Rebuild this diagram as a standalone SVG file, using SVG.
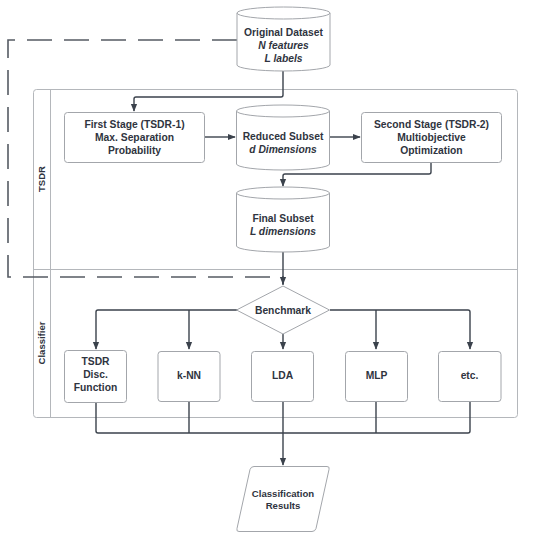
<svg xmlns="http://www.w3.org/2000/svg" width="550" height="538" viewBox="0 0 550 538">
<defs>
<style>
.box{fill:#fff;stroke:#a3a6ab;stroke-width:1}
.lane{fill:none;stroke:#b4b7bb;stroke-width:1}
.t{font-family:"Liberation Sans",Arial,sans-serif;font-weight:bold;font-size:10.3px;fill:#2f3440;text-anchor:middle}
.i{font-style:italic}
.c{fill:none;stroke:#3b424c;stroke-width:1.4}
.d{fill:none;stroke:#555b63;stroke-width:1.6;stroke-dasharray:25 12}
</style>
<marker id="ah" viewBox="0 0 10 10" refX="9" refY="5" markerWidth="8" markerHeight="8" markerUnits="userSpaceOnUse" orient="auto">
<path d="M0,1 L10,5 L0,9 Z" fill="#3b424c"/>
</marker>
</defs>
<rect width="550" height="538" fill="#fff"/>

<g id="lanes">
<rect class="lane" x="33.5" y="89.5" width="484" height="328" rx="3"/>
<line class="lane" x1="50.5" y1="89.5" x2="50.5" y2="417.5"/>
<line class="lane" x1="33.5" y1="269.5" x2="517.5" y2="269.5"/>
<text class="t" style="font-size:9.5px" transform="translate(44.5,179) rotate(-90)">TSDR</text>
<text class="t" style="font-size:9.5px" transform="translate(44.5,343) rotate(-90)">Classifier</text>
</g>

<g id="connectors">
<path class="d" d="M237,40 H8 V277 H283 V284" marker-end="url(#ah)"/>
<path class="c" d="M283,71 V95 Q283,97 281,97 H136 Q134,97 134,99 V111" marker-end="url(#ah)"/>
<path class="c" d="M205,137 H235" marker-end="url(#ah)"/>
<path class="c" d="M330,137 H360" marker-end="url(#ah)"/>
<path class="c" d="M431,162 V172 Q431,174 429,174 H285 Q283,174 283,176 V186" marker-end="url(#ah)"/>
<path class="c" d="M283,252 V285"/>
<path class="c" d="M237,310 H98 Q96,310 96,312 V349" marker-end="url(#ah)"/>
<path class="c" d="M189,310 V349" marker-end="url(#ah)"/>
<path class="c" d="M283,334 V349" marker-end="url(#ah)"/>
<path class="c" d="M330,310 H468 Q470,310 470,312 V349" marker-end="url(#ah)"/>
<path class="c" d="M376,310 V349" marker-end="url(#ah)"/>
<path class="c" d="M96,402 V431 Q96,433 98,433 H468 Q470,433 470,431 V402"/>
<path class="c" d="M189,402 V433"/>
<path class="c" d="M376,402 V433"/>
<path class="c" d="M283,402 V465" marker-end="url(#ah)"/>
</g>

<g id="original">
<path class="box" d="M237,13 A46.5,6 0 0 1 330,13 V65 A46.5,6 0 0 1 237,65 Z"/>
<path class="box" d="M237,13 A46.5,6 0 0 0 330,13"/>
<text class="t" x="283.5" y="36">Original Dataset</text>
<text class="t i" x="283.5" y="48.5">N features</text>
<text class="t i" x="283.5" y="61.5">L labels</text>
</g>

<g id="first">
<rect class="box" x="64.5" y="112.5" width="140" height="50" rx="3"/>
<text class="t" x="134.5" y="128">First Stage (TSDR-1)</text>
<text class="t" x="134.5" y="141">Max. Separation</text>
<text class="t" x="134.5" y="154">Probability</text>
</g>

<g id="reduced">
<path class="box" d="M236.5,111 A46.5,6 0 0 1 329.5,111 V164 A46.5,6 0 0 1 236.5,164 Z"/>
<path class="box" d="M236.5,111 A46.5,6 0 0 0 329.5,111"/>
<text class="t" x="283" y="140">Reduced Subset</text>
<text class="t i" x="283" y="153">d Dimensions</text>
</g>

<g id="second">
<rect class="box" x="361.5" y="112.5" width="140" height="50" rx="3"/>
<text class="t" x="431.5" y="128">Second Stage (TSDR-2)</text>
<text class="t" x="431.5" y="141">Multiobjective</text>
<text class="t" x="431.5" y="154">Optimization</text>
</g>

<g id="final">
<path class="box" d="M236.5,193 A46.5,6 0 0 1 329.5,193 V246 A46.5,6 0 0 1 236.5,246 Z"/>
<path class="box" d="M236.5,193 A46.5,6 0 0 0 329.5,193"/>
<text class="t" x="283" y="222">Final Subset</text>
<text class="t i" x="283" y="235">L dimensions</text>
</g>

<g id="benchmark">
<path class="box" d="M283,286 L329.5,310 L283,334 L236.5,310 Z"/>
<text class="t" x="283" y="313.5">Benchmark</text>
</g>

<g id="tsdrdisc">
<rect class="box" x="64.5" y="350.5" width="62" height="52" rx="3"/>
<text class="t" x="95.5" y="364.5">TSDR</text>
<text class="t" x="95.5" y="377.5">Disc.</text>
<text class="t" x="95.5" y="390.5">Function</text>
</g>

<g id="knn">
<rect class="box" x="158" y="351.5" width="62" height="50" rx="3"/>
<text class="t" x="189" y="379">k-NN</text>
</g>

<g id="lda">
<rect class="box" x="251.5" y="351.5" width="62" height="50" rx="3"/>
<text class="t" x="282.5" y="379">LDA</text>
</g>

<g id="mlp">
<rect class="box" x="345.5" y="351.5" width="62" height="50" rx="3"/>
<text class="t" x="376.5" y="379">MLP</text>
</g>

<g id="etc">
<rect class="box" x="438.5" y="351.5" width="62.5" height="50" rx="3"/>
<text class="t" x="469.5" y="379">etc.</text>
</g>

<g id="results">
<path class="box" d="M254,466.5 H327 Q330,466.5 329,469.5 L316,528.5 Q315,531.5 312,531.5 H239 Q236,531.5 237,528.5 L250,469.5 Q251,466.5 254,466.5 Z"/>
<text class="t" style="font-size:9.6px" x="283" y="496.5">Classification</text>
<text class="t" style="font-size:9.6px" x="283" y="508.5">Results</text>
</g>
</svg>
